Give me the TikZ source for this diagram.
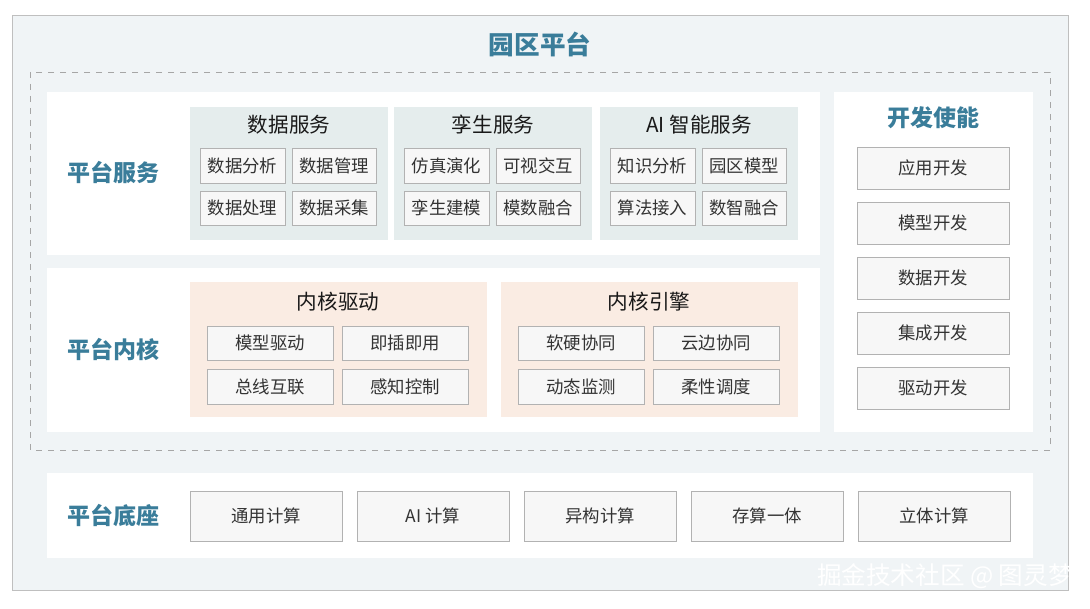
\documentclass[tikz,border=0pt]{standalone}
\usepackage{fontspec}
\setmainfont{Noto Sans CJK SC}
\definecolor{bgc}{HTML}{F0F4F6}
\definecolor{teal}{HTML}{3A7D9A}
\definecolor{grpg}{HTML}{E5EDED}
\definecolor{grpo}{HTML}{FAECE3}
\definecolor{itemf}{HTML}{F7F7F7}
\tikzset{
  panel/.style={draw=none,fill=white},
  grp/.style={draw=none},
  item/.style={draw=gray!60,fill=itemf,font=\fontsize{8.7}{10}\selectfont,text=black!80},
  head/.style={font=\fontsize{11.5}{13}\selectfont\bfseries,text=teal},
  ghead/.style={font=\fontsize{10.3}{12}\selectfont,text=black!90}
}
\begin{document}
\begin{tikzpicture}[x=0.5pt,y=-0.5pt]
\useasboundingbox (0,0) rectangle (1090,609);
% background
\draw[fill=bgc,draw=gray!50] (12,15) rectangle (1068,590);
\node[font=\fontsize{12.8}{15}\selectfont\bfseries,text=teal] (title) at (540,44) {园区平台};
\draw[dashed,gray!70] (30,72) rectangle (1050,450);
% panels
\fill[panel] (47,92) rectangle (820,255);
\fill[panel] (47,268) rectangle (820,432);
\fill[panel] (834,92) rectangle (1033,432);
\fill[panel] (47,473) rectangle (1033,558);
\node[head] (svc) at (113,173) {平台服务};
\node[head] (core) at (113,350) {平台内核};
\node[head] (base) at (113,516) {平台底座};
\node[head] (dev) at (933,118) {开发使能};
% service groups
\foreach \x/\t/\a/\b/\c/\d in {190/数据服务/数据分析/数据管理/数据处理/数据采集,
  394/孪生服务/仿真演化/可视交互/孪生建模/模数融合,
  600/AI 智能服务/知识分析/园区模型/算法接入/数智融合}{
  \fill[grpg] (\x,107) rectangle ++(198,133);
  \node[ghead] at (\x+99,125) {\t};
  \node[item,minimum width=42.5pt,minimum height=17.5pt] at (\x+52.5,165.5) {\a};
  \node[item,minimum width=42pt,minimum height=17.5pt] at (\x+144,165.5) {\b};
  \node[item,minimum width=42.5pt,minimum height=17pt] at (\x+52.5,208) {\c};
  \node[item,minimum width=42pt,minimum height=17pt] at (\x+144,208) {\d};
}
% kernel groups
\foreach \x/\t/\a/\b/\c/\d in {190/内核驱动/模型驱动/即插即用/总线互联/感知控制,
  501/内核引擎/软硬协同/云边协同/动态监测/柔性调度}{
  \fill[grpo] (\x,282) rectangle ++(297,135);
  \node[ghead] at (\x+148,302) {\t};
  \node[item,minimum width=63pt,minimum height=17pt] at (\x+80,343) {\a};
  \node[item,minimum width=63pt,minimum height=17pt] at (\x+215,343) {\b};
  \node[item,minimum width=63pt,minimum height=17.5pt] at (\x+80,386.5) {\c};
  \node[item,minimum width=63pt,minimum height=17.5pt] at (\x+215,386.5) {\d};
}
% dev items
\foreach \y/\t in {168/应用开发,223/模型开发,278/数据开发,333/集成开发,388/驱动开发}
  \node[item,minimum width=76pt,minimum height=21pt] at (933,\y) {\t};
% base items
\foreach \x/\t in {266/通用计算,433/AI 计算,600/异构计算,767/存算一体,934/立体计算}
  \node[item,minimum width=76pt,minimum height=25pt] at (\x,516) {\t};
\node[font=\fontsize{12.3}{14}\selectfont,text=white,anchor=west] (wm) at (810,576) {掘金技术社区 @ 图灵梦};
\end{tikzpicture}
\end{document}
